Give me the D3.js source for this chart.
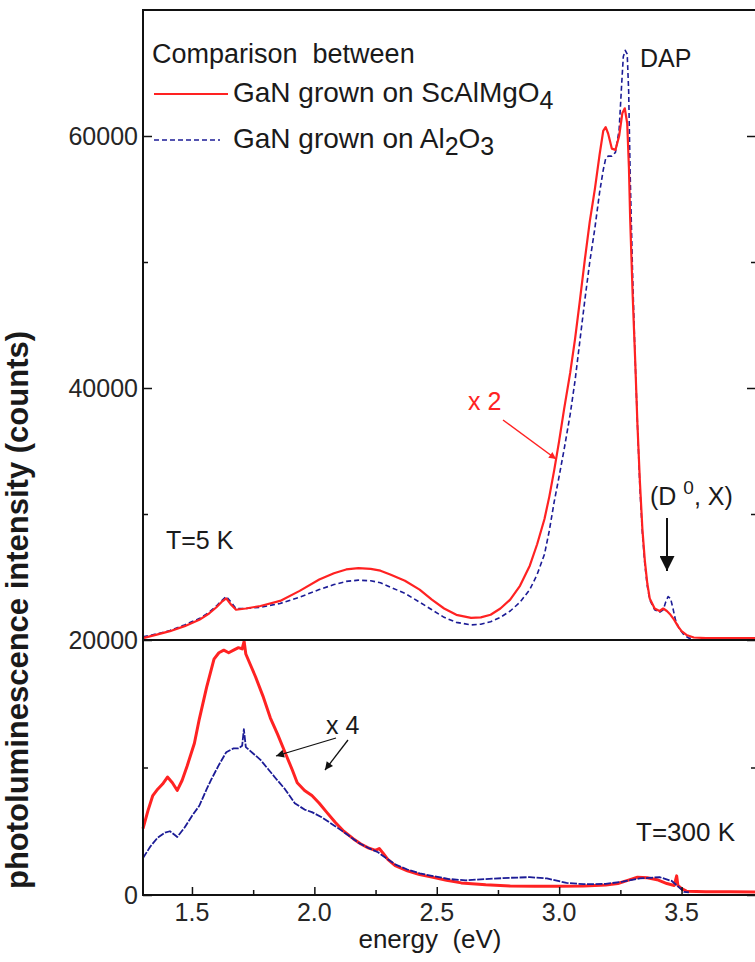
<html>
<head>
<meta charset="utf-8">
<script src="https://d3js.org/d3.v7.min.js"></script>
<style>
  body { margin: 0; background: #fff; }
  text { font-family: "Liberation Sans", Arial, sans-serif; fill: #1a1a1a; }
  .tick-label { font-size: 25px; fill: #262626; }
</style>
</head>
<body>
<script>
// x axis (eV)
var xTicks = [1.5, 2.0, 2.5, 3.0, 3.5];
var xMinorTicks = [1.75, 2.25, 2.75, 3.25];
var xTickLabels = ["1.5", "2.0", "2.5", "3.0", "3.5"];
var yTicksTop = [20000, 40000, 60000];
var yMinorTop = [30000, 50000];
var yTicksBottom = [0];
var yMinorBottom = [10000];

// T = 5 K, GaN on ScAlMgO4 (x2)
var energy5kRed = [1.30,1.36,1.41,1.47,1.53,1.57,1.60,1.62,1.64,1.66,1.68,1.72,1.78,1.86,1.94,2.02,2.08,2.13,2.18,2.23,2.27,2.31,2.37,2.43,2.48,2.53,2.58,2.64,2.68,2.72,2.76,2.80,2.84,2.88,2.91,2.94,2.96,2.98,3.00,3.02,3.045,3.065,3.085,3.105,3.125,3.146,3.165,3.18,3.19,3.20,3.215,3.23,3.245,3.258,3.268,3.278,3.285,3.29,3.30,3.31,3.32,3.33,3.34,3.35,3.36,3.37,3.39,3.41,3.425,3.44,3.455,3.47,3.485,3.50,3.52,3.55,3.60,3.70,3.80];
var counts5kRed = [20150,20450,20700,21100,21600,22100,22600,23000,23300,22800,22400,22500,22700,23100,23900,24800,25300,25600,25700,25650,25500,25200,24700,24000,23200,22500,22000,21750,21800,22000,22500,23200,24300,25900,27600,29600,31400,33500,35800,38300,41200,43900,47000,50200,53200,55800,58500,60400,60700,60200,59000,58900,60000,61800,62200,61000,57500,53500,47500,42500,37000,32500,28800,26300,24500,23300,22500,22300,22500,22300,22000,21600,21100,20700,20400,20200,20150,20150,20150];

// T = 5 K, GaN on Al2O3
var energy5kBlue = [1.30,1.36,1.41,1.47,1.53,1.57,1.60,1.62,1.64,1.66,1.68,1.72,1.78,1.86,1.94,2.02,2.08,2.13,2.18,2.23,2.27,2.31,2.37,2.43,2.48,2.53,2.58,2.64,2.68,2.72,2.76,2.80,2.84,2.88,2.91,2.94,2.96,2.98,3.00,3.02,3.045,3.065,3.085,3.105,3.125,3.146,3.165,3.18,3.19,3.20,3.215,3.23,3.245,3.255,3.262,3.27,3.278,3.284,3.29,3.30,3.31,3.32,3.33,3.34,3.35,3.36,3.37,3.39,3.41,3.425,3.435,3.445,3.455,3.465,3.475,3.49,3.51,3.53,3.55];
var counts5kBlue = [20250,20500,20750,21200,21700,22200,22700,23100,23450,23000,22500,22500,22600,22900,23400,24000,24400,24650,24750,24700,24550,24200,23700,23000,22400,21800,21400,21200,21250,21450,21800,22300,23000,24000,25200,26800,28700,31000,33000,35100,37900,40600,43800,47000,50000,52700,55500,57300,58200,58400,58400,58700,60500,64000,66300,66800,66500,63500,57000,49000,42500,37000,32000,28500,26000,24300,23200,22400,22200,22400,23000,23450,23300,22500,21600,20900,20400,20150,20100];

// T = 300 K, GaN on ScAlMgO4
var energy300kRed = [1.30,1.32,1.34,1.36,1.38,1.40,1.42,1.44,1.46,1.48,1.51,1.53,1.56,1.59,1.61,1.63,1.65,1.67,1.69,1.705,1.713,1.72,1.74,1.76,1.79,1.82,1.85,1.88,1.91,1.93,1.96,1.99,2.02,2.05,2.085,2.12,2.16,2.19,2.22,2.25,2.265,2.28,2.30,2.33,2.38,2.43,2.48,2.54,2.60,2.70,2.80,2.90,3.00,3.10,3.19,3.24,3.28,3.32,3.36,3.40,3.44,3.47,3.48,3.485,3.50,3.52,3.60,3.70,3.80];
var counts300kRed = [5200,6600,7800,8300,8700,9250,8800,8200,9000,10100,11900,13800,16300,18500,19000,19200,19000,19200,19400,19300,19900,18900,18000,17100,15600,13900,12600,11200,9800,8800,8200,7800,7200,6500,5700,5000,4400,4000,3700,3500,3650,3300,2800,2300,1900,1600,1400,1150,950,800,700,680,680,700,780,900,1150,1400,1350,1200,900,750,1500,750,500,300,250,250,230];

// T = 300 K, GaN on Al2O3
var energy300kBlue = [1.30,1.33,1.36,1.39,1.41,1.43,1.44,1.47,1.50,1.53,1.56,1.58,1.61,1.64,1.67,1.69,1.705,1.712,1.72,1.75,1.78,1.81,1.84,1.88,1.92,1.96,1.99,2.03,2.085,2.13,2.18,2.22,2.26,2.30,2.33,2.38,2.43,2.48,2.55,2.62,2.70,2.80,2.88,2.95,3.03,3.10,3.19,3.26,3.33,3.41,3.46,3.49,3.51,3.53];
var counts300kBlue = [2900,3800,4500,4900,5000,4700,4550,5300,6200,7000,8300,9100,10200,11200,11500,11500,11700,13000,11600,11100,10600,9900,9200,8300,7200,6700,6500,6100,5400,4800,4100,3700,3350,2800,2400,2000,1700,1500,1250,1150,1250,1350,1400,1300,950,850,870,1050,1300,1400,1100,600,250,200];

var width = 755, height = 962;
// plot box (note: "top" is reserved on window, so prefixed names)
var pLeft = 143, pRight = 756, pTop = 10, pSplit = 640, pBottom = 895;
var red = "#ff2222", blue = "#1c1c96";

var svg = d3.select("body").append("svg")
  .attr("width", width)
  .attr("height", height);

var defs = svg.append("defs");
function arrowMarker(id, color, w, h) {
  defs.append("marker")
    .attr("id", id)
    .attr("viewBox", "0 0 10 10")
    .attr("refX", 10).attr("refY", 5)
    .attr("markerUnits", "userSpaceOnUse")
    .attr("markerWidth", w).attr("markerHeight", h)
    .attr("orient", "auto")
    .append("path")
    .attr("d", "M0,0 L10,5 L0,10 Z")
    .attr("fill", color);
}
arrowMarker("arrRed", red, 10, 7);
arrowMarker("arrBlack", "#111", 11, 8);
arrowMarker("arrBig", "#111", 22, 15);

var x = d3.scaleLinear().domain([1.3, 3.8]).range([pLeft, pRight - 1]);
var yTop = d3.scaleLinear().domain([20000, 70000]).range([pSplit, pTop]);
var yBot = d3.scaleLinear().domain([0, 20000]).range([pBottom, pSplit]);

function drawLine(ex, cy, yScale, color, w, dash) {
  var pts = ex.map(function(e, i) { return [e, cy[i]]; });
  var line = d3.line()
    .x(function(d) { return x(d[0]); })
    .y(function(d) { return yScale(d[1]); });
  svg.append("path")
    .datum(pts)
    .attr("d", line)
    .attr("fill", "none")
    .attr("stroke", color)
    .attr("stroke-width", w)
    .attr("stroke-dasharray", dash || null)
    .attr("stroke-linejoin", "round");
}

// curves
drawLine(energy5kBlue, counts5kBlue, yTop, blue, 1.6, "5,3");
drawLine(energy5kRed, counts5kRed, yTop, red, 2.2);
drawLine(energy300kRed, counts300kRed, yBot, red, 3);
drawLine(energy300kBlue, counts300kBlue, yBot, blue, 1.8, "7,1.5");

// frame
var frame = svg.append("g").attr("stroke", "#111").attr("stroke-width", 2).attr("fill", "none");
frame.append("rect").attr("x", pLeft).attr("y", pTop).attr("width", pRight - pLeft).attr("height", pBottom - pTop);
frame.append("line").attr("x1", pLeft).attr("x2", pRight).attr("y1", pSplit).attr("y2", pSplit);

function styleTicks(g) {
  g.select(".domain").remove();
  g.selectAll("line").attr("stroke", "#111").attr("stroke-width", 1.5);
}

// x axis ticks (inward)
svg.append("g").attr("transform", "translate(0," + pBottom + ")")
  .call(d3.axisTop(x).tickValues(xTicks).tickSize(8).tickFormat(""))
  .call(styleTicks);
svg.append("g").attr("transform", "translate(0," + pBottom + ")")
  .call(d3.axisTop(x).tickValues(xMinorTicks).tickSize(5).tickFormat(""))
  .call(styleTicks);

svg.selectAll(".xlab").data(xTicks).enter().append("text")
  .attr("class", "tick-label")
  .attr("x", function(d) { return x(d); })
  .attr("y", 921)
  .attr("text-anchor", "middle")
  .text(function(d, i) { return xTickLabels[i]; });

// y axis ticks (inward, both sides)
function drawYTicks(scale, major, minor) {
  [[pLeft, d3.axisRight], [pRight, d3.axisLeft]].forEach(function(side) {
    svg.append("g").attr("transform", "translate(" + side[0] + ",0)")
      .call(side[1](scale).tickValues(major).tickSize(9).tickFormat(""))
      .call(styleTicks);
    svg.append("g").attr("transform", "translate(" + side[0] + ",0)")
      .call(side[1](scale).tickValues(minor).tickSize(5).tickFormat(""))
      .call(styleTicks);
  });
  svg.selectAll(null).data(major).enter().append("text")
    .attr("class", "tick-label")
    .attr("x", pLeft - 5)
    .attr("y", function(d) { return scale(d) + 9; })
    .attr("text-anchor", "end")
    .text(function(d) { return d; });
}
drawYTicks(yTop, yTicksTop, yMinorTop);
drawYTicks(yBot, yTicksBottom, yMinorBottom);

// axis titles
svg.append("text")
  .attr("x", 430).attr("y", 948)
  .attr("text-anchor", "middle")
  .attr("font-size", 26)
  .style("white-space", "pre")
  .text("energy  (eV)");

svg.append("text")
  .attr("transform", "translate(28,610) rotate(-90)")
  .attr("text-anchor", "middle")
  .attr("font-size", 31)
  .attr("font-weight", "bold")
  .text("photoluminescence intensity (counts)");

// legend
svg.append("text").attr("x", 152).attr("y", 63).attr("font-size", 27)
  .style("white-space", "pre").text("Comparison  between");
svg.append("line").attr("x1", 154).attr("x2", 228).attr("y1", 94).attr("y2", 94)
  .attr("stroke", red).attr("stroke-width", 2);
svg.append("line").attr("x1", 154).attr("x2", 220).attr("y1", 140).attr("y2", 140)
  .attr("stroke", blue).attr("stroke-width", 1.6).attr("stroke-dasharray", "5,3");
var leg1 = svg.append("text").attr("x", 233).attr("y", 102).attr("font-size", 28);
leg1.append("tspan").text("GaN grown on ScAlMgO");
leg1.append("tspan").attr("dy", 7).attr("font-size", 25).text("4");
var leg2 = svg.append("text").attr("x", 233).attr("y", 148).attr("font-size", 28);
leg2.append("tspan").text("GaN grown on Al");
leg2.append("tspan").attr("dy", 7).attr("font-size", 25).text("2");
leg2.append("tspan").attr("dy", -7).text("O");
leg2.append("tspan").attr("dy", 7).attr("font-size", 25).text("3");

// annotations
svg.append("text").attr("x", 640).attr("y", 67).attr("font-size", 25).text("DAP");
svg.append("text").attr("x", 166).attr("y", 549).attr("font-size", 25).style("white-space", "pre").text("T=5 K");
svg.append("text").attr("x", 636).attr("y", 841).attr("font-size", 26).style("white-space", "pre").text("T=300 K");

svg.append("text").attr("x", 468).attr("y", 410).attr("font-size", 25)
  .style("fill", red).style("white-space", "pre").text("x 2");
svg.append("line").attr("x1", 503).attr("y1", 420).attr("x2", 556).attr("y2", 459)
  .attr("stroke", red).attr("stroke-width", 1.5).attr("marker-end", "url(#arrRed)");

var d0x = svg.append("text").attr("x", 650).attr("y", 505).attr("font-size", 25).style("white-space", "pre");
d0x.append("tspan").text("(D ");
d0x.append("tspan").attr("dy", -11).attr("font-size", 19).text("0");
d0x.append("tspan").attr("dy", 11).text(", X)");
svg.append("line").attr("x1", 667).attr("y1", 518).attr("x2", 667).attr("y2", 571)
  .attr("stroke", "#111").attr("stroke-width", 2).attr("marker-end", "url(#arrBig)");

svg.append("text").attr("x", 326).attr("y", 734).attr("font-size", 25)
  .style("white-space", "pre").text("x 4");
svg.append("line").attr("x1", 336).attr("y1", 738).attr("x2", 276).attr("y2", 756)
  .attr("stroke", "#111").attr("stroke-width", 1.3).attr("marker-end", "url(#arrBlack)");
svg.append("line").attr("x1", 348).attr("y1", 740).attr("x2", 325).attr("y2", 770)
  .attr("stroke", "#111").attr("stroke-width", 1.3).attr("marker-end", "url(#arrBlack)");
</script>
</body>
</html>
